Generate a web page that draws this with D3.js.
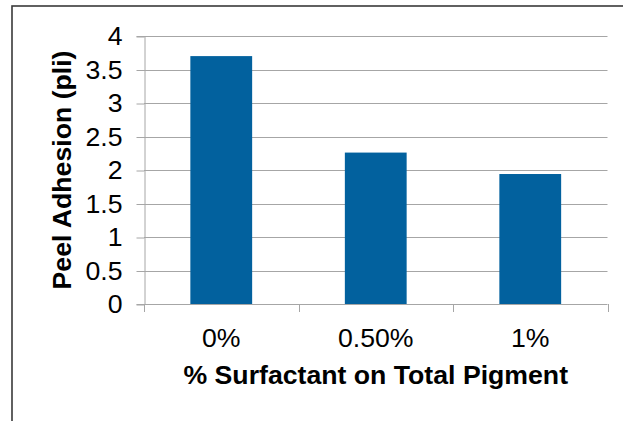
<!DOCTYPE html>
<html>
<head>
<meta charset="utf-8">
<script src="https://cdn.jsdelivr.net/npm/d3@7"></script>
<style>
  html, body { margin: 0; padding: 0; background: #fff; }
  svg { display: block; font-family: "Liberation Sans", Arial, sans-serif; }
</style>
</head>
<body>
<svg id="chart" width="623" height="421"></svg>
<script>
// Peel adhesion vs surfactant loading
const categories = ["0%", "0.50%", "1%"];
const peelAdhesion = [3.7, 2.26, 1.94];
const yTicks = [0, 0.5, 1, 1.5, 2, 2.5, 3, 3.5, 4];
const yTickLabels = ["0", "0.5", "1", "1.5", "2", "2.5", "3", "3.5", "4"];

const svg = d3.select("#chart");
const W = 623, H = 421;
const plot = { left: 144, right: 607.5, top: 36, bottom: 304 };
const fontSize = 26.67;

// outer frame (left and top edges visible within the view)
svg.append("rect")
  .attr("x", 12).attr("y", 6)
  .attr("width", W + 20).attr("height", H + 20)
  .attr("fill", "none")
  .attr("stroke", "#3a3a3a")
  .attr("stroke-width", 1.6);

const x = d3.scaleBand()
  .domain(categories)
  .range([plot.left, plot.right])
  .paddingInner(0.6)
  .paddingOuter(0.3);

const y = d3.scaleLinear()
  .domain([0, 4])
  .range([plot.bottom, plot.top]);

// horizontal gridlines
svg.append("g")
  .selectAll("line")
  .data(yTicks.filter(d => d > 0))
  .join("line")
  .attr("x1", plot.left).attr("x2", plot.right)
  .attr("y1", d => Math.round(y(d)) + 0.5).attr("y2", d => Math.round(y(d)) + 0.5)
  .attr("stroke", "#a6a6a6")
  .attr("stroke-width", 1);

// y axis
const yAxis = d3.axisLeft(y)
  .tickValues(yTicks)
  .tickFormat((d, i) => yTickLabels[i])
  .tickSize(8)
  .tickPadding(14);

const gy = svg.append("g")
  .attr("transform", `translate(${plot.left + 0.5},0)`)
  .call(yAxis);
gy.select(".domain").attr("stroke", "#a6a6a6");
gy.selectAll(".tick line").attr("stroke", "#a6a6a6")
  .attr("transform", "translate(0,0.5)");
gy.selectAll(".tick text")
  .attr("font-size", fontSize)
  .attr("fill", "#000")
  .attr("font-family", "Liberation Sans, Arial, sans-serif");

// bars
svg.append("g")
  .selectAll("rect")
  .data(categories.map((c, i) => ({ c, v: peelAdhesion[i] })))
  .join("rect")
  .attr("x", d => x(d.c))
  .attr("y", d => y(d.v))
  .attr("width", x.bandwidth())
  .attr("height", d => y(0) - y(d.v))
  .attr("fill", "#02619e");

// x axis: boundary ticks between categories
const boundaries = d3.range(categories.length + 1)
  .map(i => plot.left + i * (plot.right - plot.left) / categories.length);

const gx = svg.append("g");
gx.append("line")
  .attr("x1", plot.left).attr("x2", plot.right)
  .attr("y1", plot.bottom + 0.5).attr("y2", plot.bottom + 0.5)
  .attr("stroke", "#a6a6a6");
gx.selectAll("line.tk")
  .data(boundaries)
  .join("line")
  .attr("class", "tk")
  .attr("x1", d => Math.round(d) + 0.5).attr("x2", d => Math.round(d) + 0.5)
  .attr("y1", plot.bottom).attr("y2", plot.bottom + 8)
  .attr("stroke", "#a6a6a6");
gx.selectAll("text")
  .data(categories)
  .join("text")
  .attr("x", d => x(d) + x.bandwidth() / 2)
  .attr("y", 347)
  .attr("text-anchor", "middle")
  .attr("font-size", fontSize)
  .attr("fill", "#000")
  .text(d => d);

// axis titles
svg.append("text")
  .attr("x", (plot.left + plot.right) / 2)
  .attr("y", 384)
  .attr("text-anchor", "middle")
  .attr("font-size", fontSize)
  .attr("font-weight", "bold")
  .attr("fill", "#000")
  .text("% Surfactant on Total Pigment");

svg.append("text")
  .attr("transform", `translate(71,${(plot.top + plot.bottom) / 2}) rotate(-90)`)
  .attr("text-anchor", "middle")
  .attr("font-size", fontSize)
  .attr("font-weight", "bold")
  .attr("fill", "#000")
  .text("Peel Adhesion (pli)");
</script>
</body>
</html>
